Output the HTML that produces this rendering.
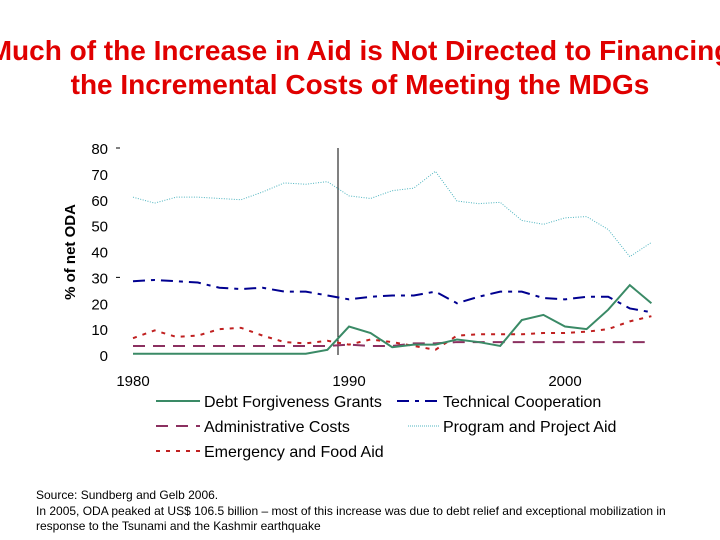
<!DOCTYPE html>
<html><head><meta charset="utf-8"><style>
body{margin:0;background:#fff;}
svg{display:block;font-family:"Liberation Sans",Arial,sans-serif;}
</style></head><body>
<svg width="720" height="540" viewBox="0 0 720 540" id="c">
<text x="360" y="60" text-anchor="middle" font-size="28" font-weight="bold" fill="#e00000">Much of the Increase in Aid is Not Directed to Financing</text>
<text x="360" y="94" text-anchor="middle" font-size="28" font-weight="bold" fill="#e00000">the Incremental Costs of Meeting the MDGs</text>
<text transform="translate(75,252) rotate(-90)" text-anchor="middle" font-size="15" font-weight="bold">% of net ODA</text>
<g id="yt"></g>
<g id="xt"></g>
<line x1="338" y1="148" x2="338" y2="355" stroke="#000" stroke-width="1"/>
<g id="series"></g>
<g font-size="16">
<line x1="156" y1="401" x2="200" y2="401" stroke="#3a8a66" stroke-width="2"/>
<text x="204" y="407">Debt Forgiveness Grants</text>
<line x1="397" y1="401" x2="440" y2="401" stroke="#000090" stroke-width="2" stroke-dasharray="12,6,4,6"/>
<text x="443" y="407">Technical Cooperation</text>
<line x1="156" y1="426" x2="200" y2="426" stroke="#8b3060" stroke-width="2" stroke-dasharray="12,8"/>
<text x="204" y="432">Administrative Costs</text>
<line x1="408" y1="426" x2="440" y2="426" stroke="#4fb5c0" stroke-width="1" stroke-dasharray="1,1"/>
<text x="443" y="432">Program and Project Aid</text>
<line x1="156" y1="451" x2="200" y2="451" stroke="#c02020" stroke-width="2" stroke-dasharray="4,6"/>
<text x="204" y="457">Emergency and Food Aid</text>
</g>
<g font-size="12">
<text x="36" y="499">Source:  Sundberg and Gelb 2006.</text>
<text x="36" y="515"> In 2005, ODA peaked at US$ 106.5 billion – most of this increase was due to debt relief and exceptional mobilization in</text>
<text x="36" y="530">response to the Tsunami and the Kashmir earthquake</text>
</g>
</svg>
<script>
const years=[1980,1981,1982,1983,1984,1985,1986,1987,1988,1989,1990,1991,1992,1993,1994,1995,1996,1997,1998,1999,2000,2001,2002,2003,2004];
const debt=[0.5,0.5,0.5,0.5,0.5,0.5,0.5,0.5,0.5,2,11,8.5,3,4,4,6,5,3.5,13.5,15.5,11,10,17.5,27,20];
const technical=[28.5,29,28.5,28,26,25.5,26,24.5,24.5,23,21.5,22.5,23,23,24.5,20,22.5,24.5,24.5,22,21.5,22.5,22.5,18,16.5];
const admin=[3.5,3.5,3.5,3.5,3.5,3.5,3.5,3.5,3.5,3.5,4,3.5,3.5,4.5,4.5,5,5,5,5,5,5,5,5,5,5];
const program=[61,58.7,61,61,60.5,60,63,66.5,66,67,61.5,60.5,63.5,64.5,71,59.5,58.5,59,52,50.5,53,53.5,48.5,38,43.5];
const emergency=[6.5,9.5,7,7.5,10,10.5,7.5,5,4.5,5.5,4,6,5,3.5,2,7.5,8,8,8,8.5,8.5,9,10,13,15];
const yTicks=[0,10,20,30,40,50,60,70,80];
const xTicks=[1980,1990,2000];
const NS='http://www.w3.org/2000/svg';
const xs=y=>133+(y-1980)*21.6;
const ys=v=>355-v*2.5875;
const yt=document.getElementById('yt'),xt=document.getElementById('xt'),sg=document.getElementById('series');
yTicks.forEach(v=>{const t=document.createElementNS(NS,'text');


t.setAttribute('x',108);t.setAttribute('y',ys(v)+6);t.setAttribute('text-anchor','end');t.setAttribute('font-size','15');t.textContent=v;yt.appendChild(t);
if(v===80||v===30){const l=document.createElementNS(NS,'line');


l.setAttribute('x1',116);l.setAttribute('x2',120);l.setAttribute('y1',ys(v));l.setAttribute('y2',ys(v));l.setAttribute('stroke','#000');yt.appendChild(l);}});
xTicks.forEach(v=>{const t=document.createElementNS(NS,'text');


t.setAttribute('x',xs(v));t.setAttribute('y',386);t.setAttribute('text-anchor','middle');t.setAttribute('font-size','15');t.textContent=v;xt.appendChild(t);});
function line(vals,name,color,w,dash){const p=document.createElementNS(NS,'polyline');


p.setAttribute('points',vals.map((v,i)=>xs(years[i])+','+ys(v)).join(' '));
p.setAttribute('fill','none');p.setAttribute('stroke',color);p.setAttribute('stroke-width',w);if(dash)p.setAttribute('stroke-dasharray',dash);sg.appendChild(p);}
line(program,'program-aid-line','#4fb5c0',1,'1,1.5');
line(technical,'technical-cooperation-line','#000090',2,'12,6,4,6');
line(admin,'admin-costs-line','#8b3060',2,'12,8');
line(emergency,'emergency-aid-line','#c02020',2,'4,6');
line(debt,'debt-forgiveness-line','#3a8a66',2,null);
</script>
</body></html>
